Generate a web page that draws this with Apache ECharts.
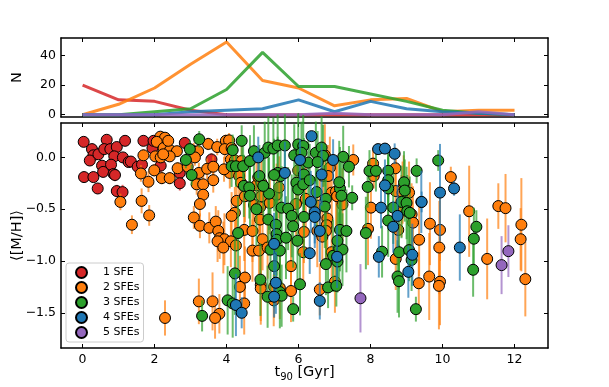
<!DOCTYPE html>
<html><head><meta charset="utf-8">
<script src="https://cdn.jsdelivr.net/npm/echarts@6/dist/echarts.min.js"></script>
<style>html,body{margin:0;padding:0;background:#fff}#c{width:609px;height:387px}</style>
</head><body><div id="c"></div>
<script>
// ---- top panel: counts per t90 bin ----
const binStarts = [0,1,2,3,4,5,6,7,8,9,10,11,12];
const histSFE1 = [20,10,9,3,0,0,0,0,0,0,0,0,0];
const histSFE2 = [0,7,18,34,49,23,18,6,10,11,2,3,3];
const histSFE3 = [0,0,2,4,17,42,19,19,14,9,3,1,0];
const histSFE4 = [0,0,0,2,3,4,10,2,9,4,2,1,0];
const histSFE5 = [0,0,0,0,0,0,0,1,0,0,0,2,0];

// ---- bottom panel: [t90, <[M/H]>, error] ----
const sfe1 = [[0.03,0.15,0.04],[0.26,0.08,0.04],[0.30,0.02,0.04],[0.20,-0.03,0.05],[0.44,0.03,0.04],[0.67,0.17,0.04],[0.60,0.08,0.04],[0.77,0.08,0.04],[0.95,0.10,0.04],[1.18,0.16,0.04],[0.88,0.01,0.05],[1.12,0.00,0.05],[0.54,-0.08,0.05],[0.57,-0.14,0.05],[0.79,-0.07,0.05],[0.86,-0.16,0.06],[0.90,-0.17,0.06],[0.04,-0.19,0.05],[0.30,-0.19,0.05],[0.42,-0.30,0.05],[0.95,-0.325,0.06],[1.11,-0.335,0.07],[1.28,-0.045,0.05],[1.34,-0.04,0.05],[1.53,-0.09,0.05],[1.65,-0.07,0.05],[1.69,0.16,0.05],[1.94,0.09,0.05],[1.97,0.16,0.05],[2.17,-0.08,0.06],[2.70,-0.15,0.06],[2.70,-0.25,0.07],[2.84,0.14,0.05],[3.58,-0.02,0.06]];
const sfe2 = [[1.05,-0.43,0.08],[1.37,-0.65,0.09],[1.64,-0.42,0.12],[1.85,-0.56,0.10],[1.62,-0.155,0.08],[1.69,0.02,0.06],[1.83,-0.235,0.10],
[2.16,0.20,0.05],[2.29,0.19,0.05],[2.06,0.15,0.05],[2.25,0.09,0.06],[2.43,0.07,0.05],[2.62,0.06,0.05],[2.02,0.01,0.05],[2.17,0.00,0.05],[2.42,0.01,0.05],[1.99,-0.125,0.06],[2.20,-0.20,0.06],[2.42,-0.20,0.06],[2.64,-0.105,0.06],[2.38,0.16,0.05],[2.24,0.03,0.05],
[3.49,0.13,0.06],[3.09,0.06,0.08],[3.21,0.06,0.08],[3.12,0.00,0.08],[2.92,-0.09,0.08],[3.23,-0.15,0.1],[3.46,-0.11,0.1],[3.63,-0.09,0.1],[3.63,-0.22,0.12],[3.17,-0.26,0.1],[3.35,-0.26,0.1],[3.35,-0.36,0.12],[3.26,-0.45,0.12],[3.09,-0.58,0.11],[3.26,-0.66,0.12],[3.52,-0.68,0.15],[3.70,-0.62,0.15],[3.77,-0.71,0.2],[3.74,0.10,0.08],[3.98,0.16,0.06],[4.07,0.165,0.07],[3.95,0.08,0.1],[4.14,0.09,0.1],[4.12,-0.02,0.12],[4.23,-0.03,0.15],[4.42,-0.035,0.15],[4.09,-0.15,0.15],[3.93,-0.115,0.12],[4.35,-0.18,0.2],[4.40,-0.245,0.2],[4.83,-0.27,0.25],[4.28,-0.42,0.25],[4.23,-0.535,0.25],[4.14,-0.565,0.23],[4.51,-0.375,0.25],[4.76,-0.46,0.25],[4.93,-0.48,0.3],[4.93,-0.60,0.3],[4.49,-0.70,0.3],[4.72,-0.71,0.3],[5.20,-0.44,0.3],[4.97,-0.375,0.25],[5.39,-0.36,0.3],[5.46,-0.29,0.3],[4.88,-0.19,0.2],[4.97,-0.245,0.25],[5.99,-0.125,0.3],[5.93,-0.45,0.3],
[3.81,-0.78,0.2],[3.94,-0.79,0.25],[4.12,-0.81,0.25],[3.75,-0.81,0.2],[3.91,-0.87,0.25],[4.26,-0.85,0.25],[4.72,-0.90,0.3],[4.90,-0.90,0.3],[5.00,-0.79,0.3],[5.14,-0.87,0.3],[5.79,-1.05,0.3],[4.51,-1.16,0.3],[4.37,-1.25,0.3],[4.95,-1.23,0.35],[4.95,-1.265,0.35],[5.32,-1.25,0.3],[5.48,-1.26,0.3],[5.31,-1.38,0.25],[5.79,-1.29,0.3],[3.23,-1.39,0.22],[3.61,-1.39,0.28],[4.49,-1.41,0.3],[3.80,-1.51,0.19],[3.68,-1.55,0.2],[2.29,-1.55,0.17],
[6.73,0.02,0.3],[6.68,-0.18,0.3],[6.87,-0.10,0.3],[6.82,-0.18,0.3],[7.52,-0.025,0.15],[6.20,-0.40,0.3],[6.92,-0.34,0.35],[7.04,-0.33,0.35],[7.07,-0.375,0.35],[7.22,-0.455,0.35],[6.59,-0.465,0.3],[6.80,-0.59,0.35],[6.78,-0.655,0.35],[6.15,-0.72,0.3],[6.52,-0.71,0.35],[6.76,-0.71,0.35],[8.07,-0.06,0.15],[8.69,-0.105,0.2],[8.09,-0.18,0.12],[8.92,-0.28,0.3],[8.70,-0.325,0.3],[8.89,-0.34,0.3],[9.07,-0.34,0.3],[8.86,-0.47,0.3],[9.14,-0.55,0.3],[8.01,-0.485,0.3],[8.77,-0.70,0.35],[9.18,-0.63,0.35],[7.93,-0.69,0.35],
[6.13,-0.915,0.3],[6.66,-0.765,0.3],[6.92,-0.915,0.3],[7.01,-1.20,0.3],[6.59,-1.275,0.25],[8.70,-0.98,0.3],[9.34,-1.215,0.3],[9.35,-0.795,0.35],
[10.23,-0.19,0.1],[10.74,-0.52,0.44],[11.55,-0.47,0.22],[11.75,-0.49,0.33],[9.65,-0.64,0.4],[9.93,-0.70,0.3],[12.19,-0.65,0.45],[9.91,-0.87,0.45],[12.17,-0.79,0.3],[11.24,-0.98,0.39],[9.63,-1.15,0.42],[9.93,-1.20,0.42],[9.90,-1.24,0.42],[12.30,-1.175,0.36]];
const sfe3 = [[3.24,0.175,0.08],[2.98,0.08,0.08],[2.87,-0.025,0.08],[3.03,-0.17,0.1],[4.17,0.07,0.15],[4.42,0.16,0.15],[4.14,-0.085,0.2],[4.26,-0.085,0.2],[4.46,-0.085,0.2],[4.48,-0.275,0.3],[4.63,-0.29,0.3],[4.65,-0.37,0.3],[4.83,-0.50,0.35],[5.16,-0.60,0.35],[4.32,-0.73,0.35],[5.37,-0.65,0.4],[5.18,-0.35,0.35],[4.65,-0.035,0.25],[4.76,0.06,0.25],[5.06,0.045,0.3],[5.16,0.095,0.3],[5.30,0.085,0.3],[5.42,0.115,0.3],[5.62,0.115,0.3],[4.91,-0.18,0.3],[5.02,-0.275,0.3],[5.42,-0.15,0.35],[5.50,-0.18,0.35],[5.32,-0.17,0.35],[5.94,-0.245,0.35],[5.99,-0.31,0.35],[5.53,-0.485,0.4],[5.71,-0.495,0.4],[5.81,-0.565,0.4],[5.85,-0.665,0.4],[5.39,-0.74,0.4],[5.88,0.02,0.3],[5.99,0.125,0.3],[6.13,0.11,0.3],
[6.08,0.045,0.3],[6.48,0.045,0.3],[6.64,0.095,0.3],[6.68,0.015,0.3],[6.27,-0.05,0.3],[6.53,-0.045,0.3],[7.24,0.005,0.3],[7.40,-0.09,0.2],[6.15,-0.165,0.35],[6.13,-0.26,0.35],[6.31,-0.22,0.35],[6.50,-0.335,0.35],[6.76,-0.40,0.4],[7.15,-0.30,0.4],[7.19,-0.37,0.4],[7.13,-0.24,0.4],[7.49,-0.39,0.12],[6.73,-0.475,0.4],[6.15,-0.575,0.4],[7.15,-0.70,0.4],[7.33,-0.71,0.4],[7.97,-0.13,0.2],[8.15,-0.13,0.2],[8.49,-0.13,0.25],[8.49,-0.22,0.25],[9.28,-0.13,0.12],[7.92,-0.285,0.2],[8.49,-0.30,0.3],[8.93,-0.24,0.3],[8.95,-0.32,0.3],[8.86,-0.43,0.35],[9.00,-0.44,0.35],[8.63,-0.485,0.35],[9.02,-0.52,0.35],[9.09,-0.535,0.35],[8.49,-0.61,0.35],[7.87,-0.73,0.35],
[5.22,-0.89,0.4],[5.48,-0.90,0.4],[5.39,-0.795,0.4],[5.65,-0.775,0.4],[5.97,-0.805,0.4],[5.32,-1.05,0.4],[4.23,-1.12,0.4],[4.94,-1.18,0.35],[5.48,-1.30,0.35],[5.14,-1.345,0.3],[5.53,-1.335,0.3],[6.04,-1.225,0.3],[5.85,-1.465,0.12],[4.03,-1.38,0.33],[4.17,-1.41,0.33],[3.32,-1.53,0.15],
[6.96,-0.95,0.35],[7.13,-0.88,0.35],[7.22,-0.89,0.35],[7.08,-0.805,0.35],[6.76,-1.03,0.3],[7.08,-1.005,0.3],[6.82,-1.255,0.2],[7.05,-1.24,0.2],[8.32,-0.91,0.25],[8.79,-0.915,0.35],[9.07,-0.895,0.3],[9.14,-0.99,0.3],[8.75,-1.15,0.35],[8.79,-1.195,0.35],[9.26,-1.465,0.12],
[9.88,-0.03,0.1],[10.94,-0.67,0.16],[10.87,-0.785,0.3],[10.85,-1.085,0.26]];
const sfe4 = [[4.88,0.00,0.2],[5.62,-0.15,0.3],[6.04,-0.025,0.2],[6.36,0.205,0.05],[6.64,-0.165,0.3],[6.96,-0.025,0.2],[6.34,-0.43,0.3],[6.45,-0.53,0.3],[6.45,-0.575,0.3],[6.59,-0.71,0.3],[8.21,0.08,0.05],[8.40,0.085,0.05],[8.67,0.035,0.1],[8.40,-0.27,0.25],[9.41,-0.43,0.3],[8.29,-0.485,0.2],[8.75,-0.565,0.3],[8.63,-0.67,0.25],[5.32,-0.835,0.3],[5.37,-1.21,0.3],[5.32,-1.345,0.2],[4.26,-1.425,0.3],[4.42,-1.50,0.15],[6.31,-0.925,0.2],[7.07,-0.96,0.3],[6.59,-1.385,0.18],[8.23,-0.96,0.2],[9.16,-0.94,0.3],[9.05,-1.105,0.25],[9.93,-0.34,0.47],[10.32,-0.30,0.07],[9.42,-0.43,0.1],[10.48,-0.87,0.32]];
const sfe5 = [[7.72,-1.36,0.33],[11.64,-1.04,0.28],[11.83,-0.905,0.25]];

const groupNames = ['1 SFE','2 SFEs','3 SFEs','4 SFEs','5 SFEs'];
const xTicks = [0,2,4,6,8,10,12];
const nTicks = [0,20,40];
const mhTicks = [-1.5,-1.0,-0.5,0.0];

const colors = ['#d62728','#ff7f0e','#2ca02c','#1f77b4','#9467bd'];
const FONT = 'DejaVu Sans';
const chart = echarts.init(document.getElementById('c'), null, {renderer:'canvas'});

const tickStyle = vals => ({show:true,inside:true,length:4,customValues:vals,lineStyle:{color:'#000',width:1}});
function ax(extra){
  return Object.assign({
    type:'value', scale:false, nameMoveOverlap:false,
    axisLine:{show:true,onZero:false,lineStyle:{color:'#000',width:1.5}},
    splitLine:{show:false},
    axisLabel:{show:false}
  }, extra);
}
const labelStyle = (vals, fmt) => ({show:true,customValues:vals,margin:5,fontFamily:FONT,fontSize:12.5,color:'#000',
  showMinLabel:true,showMaxLabel:true,hideOverlap:false,formatter:fmt});
const XMIN=-0.6, XMAX=12.93;
const xAxes = [
  ax({gridIndex:0,position:'bottom',min:XMIN,max:XMAX,axisTick:tickStyle(xTicks)}),
  ax({gridIndex:0,position:'top',min:XMIN,max:XMAX,axisTick:tickStyle(xTicks)}),
  ax({gridIndex:1,position:'bottom',min:XMIN,max:XMAX,axisTick:tickStyle(xTicks),
     axisLabel:labelStyle(xTicks, v=>String(Math.round(v))),
     name:'{a|t}{s|90}{a| [Gyr]}',nameLocation:'middle',nameGap:17,
     nameTextStyle:{rich:{a:{fontFamily:FONT,fontSize:14.5,color:'#000'},s:{fontFamily:FONT,fontSize:10,color:'#000',verticalAlign:'bottom',padding:[0,0,-2,0]}}}}),
  ax({gridIndex:1,position:'top',min:XMIN,max:XMAX,axisTick:tickStyle(xTicks)})
];
const NMIN=-1.55, NMAX=51.7, MMIN=-1.84, MMAX=0.332;
const yAxes = [
  ax({gridIndex:0,position:'left',min:NMIN,max:NMAX,axisTick:tickStyle(nTicks),
     axisLabel:labelStyle(nTicks, v=>String(Math.round(v))),
     name:'N',nameLocation:'middle',nameGap:36,nameRotate:90,nameTextStyle:{fontFamily:FONT,fontSize:14.5,color:'#000'}}),
  ax({gridIndex:0,position:'right',min:NMIN,max:NMAX,axisTick:tickStyle(nTicks)}),
  ax({gridIndex:1,position:'left',min:MMIN,max:MMAX,axisTick:tickStyle(mhTicks),
     axisLabel:labelStyle(mhTicks, v=>Number(v).toFixed(1).replace('-','\u2212')),
     name:'\u27E8[M/H]\u27E9',nameLocation:'middle',nameGap:36,nameRotate:90,nameTextStyle:{fontFamily:FONT,fontSize:14.5,color:'#000'}}),
  ax({gridIndex:1,position:'right',min:MMIN,max:MMAX,axisTick:tickStyle(mhTicks)})
];

const hists = [histSFE1,histSFE2,histSFE3,histSFE4,histSFE5];
const groups = [sfe1,sfe2,sfe3,sfe4,sfe5];
const series = [];
hists.forEach((h,i)=>{
  series.push({type:'line',name:'hist'+i,xAxisIndex:0,yAxisIndex:0,data:binStarts.map((b,k)=>[b,h[k]]),
    symbol:'none',silent:true,z:2+i,lineStyle:{color:colors[i],width:3,opacity:0.85},itemStyle:{color:colors[i]}});
});
groups.forEach((g,i)=>{
  series.push({type:'custom',name:'err'+i,xAxisIndex:2,yAxisIndex:2,silent:true,z:10+2*i,
    data:g.map(d=>[d[0],d[1]-d[2],d[1]+d[2]]),
    encode:{x:0,y:[1,2]},
    renderItem:(params,api)=>{
      const p1=api.coord([api.value(0),api.value(1)]);
      const p2=api.coord([api.value(0),api.value(2)]);
      return {type:'line',shape:{x1:p1[0],y1:p1[1],x2:p2[0],y2:p2[1]},style:{stroke:colors[i],lineWidth:2,opacity:0.7}};
    }});
  series.push({type:'scatter',name:groupNames[i],xAxisIndex:2,yAxisIndex:2,z:11+2*i,
    data:g.map(d=>[d[0],d[1]]),symbol:'circle',symbolSize:11,
    itemStyle:{color:colors[i],borderColor:'#000',borderWidth:1,opacity:1}});
});

chart.setOption({
  animation:false,
  backgroundColor:'#fff',
  grid:[{left:61,top:38,width:487,height:79,outerBoundsMode:'none'},{left:61,top:123,width:487,height:225,outerBoundsMode:'none'}],
  xAxis:xAxes, yAxis:yAxes,
  legend:{data:groupNames,orient:'vertical',left:66,top:263,itemWidth:11,itemHeight:11,itemGap:2,
    padding:[3,4,3,9],icon:'circle',backgroundColor:'#fff',borderColor:'#cccccc',borderWidth:1,borderRadius:3,
    formatter:n=>'{g|}'+n,
    textStyle:{fontFamily:FONT,fontSize:11,color:'#000',rich:{g:{width:11}}},selectedMode:false},
  series:series
});
</script></body></html>
